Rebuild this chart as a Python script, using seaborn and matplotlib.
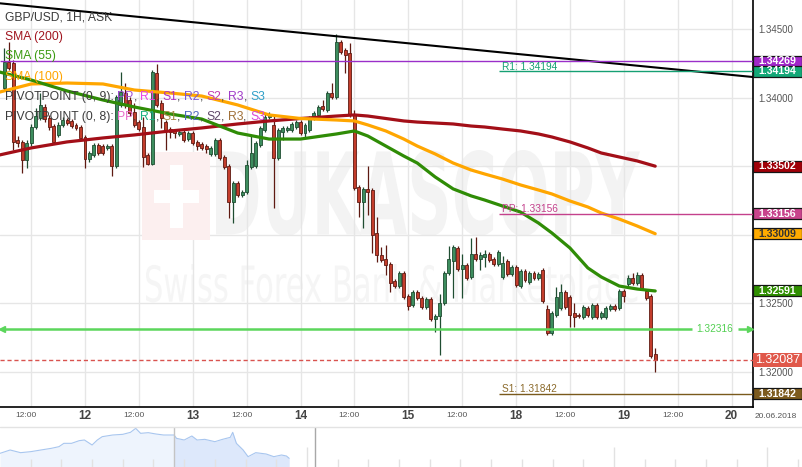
import numpy as np
import matplotlib
matplotlib.use('Agg')
import matplotlib.pyplot as plt
import seaborn as sns
from matplotlib.patches import Rectangle, PathPatch
from matplotlib.textpath import TextPath
from matplotlib.font_manager import FontProperties
from matplotlib.transforms import Affine2D, IdentityTransform, ScaledTranslation, blended_transform_factory

# ---- data -------------------------------------------------------------------
# hourly candles, hour 0 = 12.06 00:00 (weekend hours skipped)
hours = np.arange(-18, 128)
opens = [1.34073, 1.34262, 1.34255, 1.33693, 1.33679, 1.33547, 1.33671, 1.33788, 1.33854, 1.33934,
         1.33854, 1.33795, 1.33730, 1.33803, 1.33839, 1.33832, 1.33803, 1.33788, 1.33715, 1.33554,
         1.33584, 1.33657, 1.33649, 1.33635, 1.33649, 1.33503, 1.33949, 1.34036, 1.33985, 1.33897,
         1.33824, 1.33788, 1.33584, 1.33518, 1.34182, 1.33963, 1.33824, 1.33773, 1.33759, 1.33737,
         1.33751, 1.33700, 1.33744, 1.33679, 1.33664, 1.33649, 1.33591, 1.33591, 1.33693, 1.33569,
         1.33503, 1.33241, 1.33379, 1.33292, 1.33314, 1.33496, 1.33503, 1.33657, 1.33766, 1.33861,
         1.33803, 1.33562, 1.33751, 1.33766, 1.33766, 1.33788, 1.33824, 1.33744, 1.33766, 1.33854,
         1.33876, 1.33941, 1.33912, 1.34036, 1.34007, 1.34408, 1.34350, 1.34328, 1.33876, 1.33350,
         1.33241, 1.33336, 1.33328, 1.33014, 1.32854, 1.32824, 1.32788, 1.32664, 1.32627, 1.32722,
         1.32554, 1.32489, 1.32583, 1.32540, 1.32474, 1.32532, 1.32386, 1.32408, 1.32503, 1.32722,
         1.32810, 1.32905, 1.32751, 1.32781, 1.32693, 1.32861, 1.32824, 1.32839, 1.32861, 1.32824,
         1.32788, 1.32693, 1.32810, 1.32715, 1.32766, 1.32627, 1.32737, 1.32656, 1.32722, 1.32686,
         1.32744, 1.32459, 1.32284, 1.32416, 1.32467, 1.32583, 1.32547, 1.32430, 1.32416, 1.32401,
         1.32467, 1.32401, 1.32489, 1.32401, 1.32401, 1.32459, 1.32481, 1.32467, 1.32591, 1.32642,
         1.32686, 1.32649, 1.32708, 1.32591, 1.32554, 1.32131]
highs = [1.34365, 1.34408, 1.34277, 1.33722, 1.33693, 1.33693, 1.33810, 1.33927, 1.34036, 1.33956,
         1.33876, 1.33810, 1.33824, 1.33861, 1.33854, 1.33846, 1.33817, 1.33803, 1.33730, 1.33613,
         1.33671, 1.33671, 1.33664, 1.33664, 1.33664, 1.34022, 1.34189, 1.34109, 1.34007, 1.33963,
         1.33839, 1.33861, 1.33598, 1.34204, 1.34248, 1.33985, 1.33839, 1.33788, 1.33773, 1.33766,
         1.33766, 1.33759, 1.33759, 1.33693, 1.33679, 1.33664, 1.33649, 1.33708, 1.33708, 1.33584,
         1.33518, 1.33394, 1.33394, 1.33328, 1.33547, 1.33730, 1.33686, 1.33795, 1.33883, 1.33897,
         1.33883, 1.33781, 1.33795, 1.33795, 1.33824, 1.33839, 1.33839, 1.33817, 1.33868, 1.33905,
         1.33949, 1.33985, 1.34051, 1.34109, 1.34467, 1.34423, 1.34365, 1.34401, 1.33912, 1.33365,
         1.33350, 1.33503, 1.33343, 1.33131, 1.32912, 1.32927, 1.32802, 1.32678, 1.32737, 1.32737,
         1.32569, 1.32598, 1.32598, 1.32554, 1.32547, 1.32547, 1.32423, 1.32569, 1.32737, 1.32919,
         1.32927, 1.32919, 1.32861, 1.32795, 1.32978, 1.32985, 1.32875, 1.32890, 1.32875, 1.32839,
         1.32890, 1.32846, 1.32824, 1.32781, 1.32781, 1.32751, 1.32751, 1.32737, 1.32737, 1.32729,
         1.32759, 1.32489, 1.32445, 1.32620, 1.32642, 1.32598, 1.32562, 1.32503, 1.32430, 1.32489,
         1.32481, 1.32503, 1.32503, 1.32445, 1.32481, 1.32496, 1.32496, 1.32605, 1.32605, 1.32708,
         1.32722, 1.32729, 1.32722, 1.32605, 1.32569, 1.32175]
lows = [1.34051, 1.34204, 1.33620, 1.33642, 1.33452, 1.33489, 1.33649, 1.33773, 1.33839, 1.33824,
        1.33766, 1.33664, 1.33715, 1.33788, 1.33803, 1.33781, 1.33766, 1.33693, 1.33489, 1.33532,
        1.33569, 1.33584, 1.33584, 1.33620, 1.33430, 1.33489, 1.33934, 1.33927, 1.33868, 1.33788,
        1.33759, 1.33496, 1.33511, 1.33511, 1.33934, 1.33781, 1.33620, 1.33708, 1.33708, 1.33722,
        1.33679, 1.33686, 1.33657, 1.33620, 1.33620, 1.33598, 1.33576, 1.33576, 1.33547, 1.33481,
        1.33124, 1.33087, 1.33277, 1.33277, 1.33299, 1.33481, 1.33489, 1.33642, 1.33751, 1.33846,
        1.33197, 1.33547, 1.33693, 1.33751, 1.33751, 1.33773, 1.33730, 1.33708, 1.33751, 1.33839,
        1.33861, 1.33905, 1.33897, 1.33992, 1.33992, 1.34321, 1.34182, 1.33861, 1.33328, 1.33131,
        1.33051, 1.33146, 1.32868, 1.32802, 1.32802, 1.32708, 1.32583, 1.32613, 1.32613, 1.32532,
        1.32452, 1.32474, 1.32525, 1.32459, 1.32459, 1.32372, 1.32291, 1.32124, 1.32489, 1.32708,
        1.32540, 1.32737, 1.32540, 1.32671, 1.32678, 1.32810, 1.32744, 1.32766, 1.32802, 1.32773,
        1.32773, 1.32678, 1.32700, 1.32700, 1.32620, 1.32613, 1.32656, 1.32642, 1.32671, 1.32671,
        1.32503, 1.32270, 1.32270, 1.32401, 1.32452, 1.32459, 1.32328, 1.32328, 1.32394, 1.32386,
        1.32401, 1.32386, 1.32386, 1.32386, 1.32386, 1.32445, 1.32445, 1.32452, 1.32510, 1.32627,
        1.32635, 1.32635, 1.32598, 1.32525, 1.32102, 1.32000]
closes = [1.34262, 1.34219, 1.33679, 1.33671, 1.33547, 1.33671, 1.33788, 1.33868, 1.33949, 1.33846,
          1.33788, 1.33679, 1.33803, 1.33839, 1.33817, 1.33795, 1.33781, 1.33708, 1.33554, 1.33598,
          1.33657, 1.33598, 1.33598, 1.33649, 1.33503, 1.34007, 1.34043, 1.33949, 1.33890, 1.33803,
          1.33773, 1.33569, 1.33518, 1.34189, 1.33949, 1.33854, 1.33759, 1.33751, 1.33744, 1.33751,
          1.33693, 1.33744, 1.33671, 1.33649, 1.33635, 1.33627, 1.33635, 1.33693, 1.33562, 1.33496,
          1.33241, 1.33379, 1.33292, 1.33314, 1.33511, 1.33598, 1.33671, 1.33781, 1.33861, 1.33876,
          1.33562, 1.33766, 1.33781, 1.33781, 1.33810, 1.33824, 1.33744, 1.33803, 1.33854, 1.33890,
          1.33934, 1.33919, 1.34036, 1.34007, 1.34408, 1.34335, 1.34314, 1.33876, 1.33343, 1.33241,
          1.33336, 1.33314, 1.33000, 1.32854, 1.32817, 1.32781, 1.32649, 1.32627, 1.32722, 1.32547,
          1.32481, 1.32583, 1.32540, 1.32474, 1.32532, 1.32386, 1.32408, 1.32503, 1.32722, 1.32824,
          1.32912, 1.32751, 1.32781, 1.32686, 1.32861, 1.32824, 1.32854, 1.32861, 1.32817, 1.32788,
          1.32875, 1.32795, 1.32715, 1.32766, 1.32635, 1.32737, 1.32671, 1.32722, 1.32686, 1.32715,
          1.32518, 1.32284, 1.32430, 1.32547, 1.32583, 1.32474, 1.32416, 1.32401, 1.32408, 1.32474,
          1.32416, 1.32489, 1.32401, 1.32430, 1.32467, 1.32481, 1.32459, 1.32591, 1.32554, 1.32686,
          1.32649, 1.32708, 1.32613, 1.32540, 1.32117, 1.32087]

# moving averages, sampled along the drawn curves
sma_hours = [-19, -12, -4, 4, 11, 19, 26, 34, 41, 48, 56, 60, 63, 67, 71,
             74, 78, 82, 86, 89, 93, 97, 101, 104, 108, 112, 115, 119, 123, 127]
sma200 = [1.33584, 1.33635, 1.33679, 1.33708, 1.33730, 1.33759, 1.33781, 1.33810, 1.33832, 1.33850,
          1.33868, 1.33876, 1.33868, 1.33850, 1.33832, 1.33824, 1.33817, 1.33810, 1.33795, 1.33788,
          1.33773, 1.33759, 1.33737, 1.33715, 1.33679, 1.33635, 1.33598, 1.33569, 1.33540, 1.33502]
sma55 = [1.34189, 1.34131, 1.34051, 1.33985, 1.33934, 1.33883, 1.33846, 1.33744, 1.33700, 1.33700,
         1.33737, 1.33759, 1.33722, 1.33649, 1.33576, 1.33525, 1.33423, 1.33336, 1.33285, 1.33255,
         1.33211, 1.33167, 1.33087, 1.33014, 1.32905, 1.32759, 1.32693, 1.32627, 1.32605, 1.32591]
sma100 = [1.34043, 1.34102, 1.34109, 1.34102, 1.34058, 1.34036, 1.34014, 1.33949, 1.33876, 1.33850,
          1.33839, 1.33832, 1.33803, 1.33759, 1.33700, 1.33649, 1.33591, 1.33525, 1.33474, 1.33445,
          1.33408, 1.33365, 1.33328, 1.33299, 1.33248, 1.33204, 1.33160, 1.33116, 1.33065, 1.33009]

trend_hours = [-19, 149]
trend_prices = [1.34691, 1.34152]

level_purple = 1.34269
level_r1 = 1.34194
level_pp = 1.33156
level_s1 = 1.31842
level_green = 1.32316
last_price = 1.32087

box_values = [1.34269, 1.34194, 1.33502, 1.33156, 1.33009, 1.32591, 1.31842]
box_colors = ['#a026c8', '#13a877', '#a00008', '#c8448c', '#ffab00', '#2f8f00', '#7d5b1e']
box_text = ['white', 'white', 'white', 'white', '#333333', 'white', 'white']

day_hours = [0, 24, 48, 72, 96, 120, 144]
day_labels = ['12', '13', '14', '15', '18', '19', '20']
noon_hours = [-12, 12, 36, 60, 84, 108, 132]
price_ticks = [1.320, 1.325, 1.330, 1.335, 1.340, 1.345]
# 1.33000 and 1.33500 sit under the coloured boxes in the original
price_labels = ['1.32000', '1.32500', '', '', '1.34000', '1.34500']

# navigator strip under the chart
nav_days = [0.0, 0.33, 0.67, 1.0, 1.33, 1.67, 1.92, 2.08, 2.33, 2.58, 2.75, 3.0, 3.17, 3.33,
            3.67, 4.0, 4.25, 4.42, 4.58, 4.83, 5.08, 5.33, 5.67, 5.75, 6.0, 6.25, 6.42, 6.67,
            7.0, 7.25, 7.5, 7.58, 7.7, 7.92, 8.08, 8.33, 8.67, 8.92, 9.17, 9.33, 9.42]
nav_level = [41, 51, 43, 46, 51, 56, 61, 71, 71, 79, 81, 66, 81, 91, 96, 98, 104, 116, 101, 103,
             99, 96, 96, 86, 81, 93, 81, 83, 76, 83, 89, 104, 71, 51, 31, 43, 39, 31, 36, 33, 26]

# ---- figure ------------------------------------------------------------------
sns.set_style('white')
plt.rcParams['font.family'] = ['Liberation Sans', 'DejaVu Sans']

W, H = 803, 467
fig = plt.figure(figsize=(W / 100, H / 100), dpi=100)
ax = fig.add_axes([0, 1 - 407 / H, 753 / W, 407 / H])
ax.set_xlim(-18.93, 148.78)
ax.set_ylim(1.31744, 1.34715)

# watermark
def wm_text(text, x0, y0, x1, y1, color, weight):
    tp = TextPath((0, 0), text, size=1, prop=FontProperties(family='DejaVu Sans', weight=weight))
    bb = tp.get_extents()
    tr = Affine2D().translate(-bb.x0, -bb.y0).scale((x1 - x0) / bb.width, (y1 - y0) / bb.height).translate(x0, H - y1)
    ax.add_artist(PathPatch(tp, transform=tr, facecolor=color, edgecolor='none', zorder=0.5))

def wm_rect(x0, y0, x1, y1, color):
    ax.add_artist(Rectangle((x0, H - y1), x1 - x0, y1 - y0, transform=IdentityTransform(),
                            facecolor=color, edgecolor='none', zorder=0.6))

wm_rect(142, 152, 210, 240, '#fcefef')
wm_rect(170, 165, 183, 228, 'white')
wm_rect(154, 190, 199, 203, 'white')
wm_text('DUKASCOPY', 216, 150, 640, 236, '#f3f3f3', 'bold')
wm_text('Swiss Forex Bank & Marketplace', 146, 264, 638, 312, '#f5f5f5', 'normal')

# candles
o, h_, l, c = map(np.array, (opens, highs, lows, closes))
up = c >= o
edge = np.where(up, '#1f4d31', '#5e1a12')
ax.vlines(hours, l, h_, colors=edge, lw=0.9, zorder=3)
ax.bar(hours, np.maximum(np.abs(c - o), 0.00004), bottom=np.minimum(o, c), width=0.66,
       color=np.where(up, '#3d8d5e', '#c33d2c'), edgecolor=edge, linewidth=0.6, zorder=4)

# moving averages and trend line
sns.lineplot(x=sma_hours, y=sma200, ax=ax, color='#a30f18', linewidth=2.3, zorder=5)
sns.lineplot(x=sma_hours, y=sma100, ax=ax, color='#ffa600', linewidth=2.3, zorder=5)
sns.lineplot(x=sma_hours, y=sma55, ax=ax, color='#2f8c06', linewidth=2.3, zorder=5)
sns.lineplot(x=trend_hours, y=trend_prices, ax=ax, color='black', linewidth=1.5, zorder=6)

# levels
x_left, x_right = ax.get_xlim()
ax.hlines(level_purple, x_left, x_right, color='#9a2fc9', lw=1, zorder=6)
ax.hlines(level_r1, 92.3, x_right, color='#15a073', lw=1, zorder=6)
ax.hlines(level_pp, 92.3, x_right, color='#c4418c', lw=1, zorder=6)
ax.hlines(level_s1, 92.3, x_right, color='#7a5a1c', lw=1, zorder=6)
ax.hlines(last_price, x_left, x_right, color='#d9534f', lw=1, linestyles=(0, (3, 2)), zorder=6)
ax.hlines(level_green, x_left, 135.2, color='#5cd65c', lw=1.8, zorder=6)
ax.hlines(level_green, 145.4, 148.0, color='#5cd65c', lw=1.8, zorder=6)
ax.plot([-18.4], [level_green], marker='<', ms=5, color='#5cd65c', zorder=6)
ax.plot([148.1], [level_green], marker='>', ms=5, color='#5cd65c', zorder=6, clip_on=False)
ax.text(140.3, level_green, f'{level_green:.5f}', color='#52d052', fontsize=7.3, ha='center', va='center', zorder=7)
ax.text(92.9, level_r1 + 0.0001, f'R1: {level_r1:.5f}', color='#15a073', fontsize=7.3, va='baseline', zorder=7)
ax.text(92.9, level_pp + 0.0001, f'PP: {level_pp:.5f}', color='#c4418c', fontsize=7.3, va='baseline', zorder=7)
ax.text(92.9, level_s1 + 0.0001, f'S1: {level_s1:.5f}', color='#8b6a2b', fontsize=7.3, va='baseline', zorder=7)

# axes styling
ax.set_xticks(day_hours)
ax.set_xticklabels(day_labels)
ax.set_xticks(noon_hours, minor=True)
ax.set_xticklabels(['12:00'] * len(noon_hours), minor=True)
ax.tick_params(axis='x', which='major', length=0, pad=2.5, labelsize=8.5, labelcolor='#444444')
ax.tick_params(axis='x', which='minor', length=0, pad=3.5, labelsize=6, labelcolor='#555555')
for lab in ax.get_xticklabels():
    lab.set_fontweight('bold')
for lab in ax.get_xticklabels(minor=True):
    lab.set_transform(lab.get_transform() + ScaledTranslation(-0.05, 0, fig.dpi_scale_trans))
ax.yaxis.tick_right()
ax.set_yticks(price_ticks)
ax.set_yticklabels(price_labels)
ax.tick_params(axis='y', length=0, pad=4, labelsize=7, labelcolor='#555555')
ax.grid(True, which='both', color='#e6e6e6', lw=1)
ax.set_axisbelow(True)
for side in ['top', 'left']:
    ax.spines[side].set_visible(False)
for side in ['right', 'bottom']:
    ax.spines[side].set_color('black')
    ax.spines[side].set_linewidth(1.2)

# price boxes on the right
trans = blended_transform_factory(ax.transAxes, ax.transData)
box_w = 49 / 753
for v, fc, tc in zip(box_values, box_colors, box_text):
    ax.add_patch(Rectangle((1.0, v - 0.0004), box_w, 0.0008, transform=trans, facecolor=fc,
                           edgecolor='#151515', lw=0.9, clip_on=False, zorder=10))
    ax.text(1.0 + box_w / 2, v, f'{v:.5f}', transform=trans, ha='center', va='center', color=tc,
            fontsize=7.6, fontweight='bold', clip_on=False, zorder=11)
ax.add_patch(Rectangle((1.0, last_price - 0.00051), box_w, 0.00102, transform=trans, facecolor='#e0584a',
                       edgecolor='none', clip_on=False, zorder=10))
ax.text(1.0 + box_w / 2, last_price, f'{last_price:.5f}', transform=trans, ha='center', va='center',
        color='white', fontsize=9, clip_on=False, zorder=11)

fig.text(776 / W, 1 - 417 / H, '20.06.2018', fontsize=6, color='#555555', ha='center', va='center')

# legend text, top left
def chain(base_y, parts, size=8.7):
    s, col = parts[0]
    t = ax.annotate(s, xy=(5, H - base_y), xycoords='figure pixels', color=col, fontsize=size,
                    va='baseline', ha='left', annotation_clip=False, zorder=20)
    for s, col in parts[1:]:
        t = ax.annotate(s, xy=(1, 0), xycoords=t, color=col, fontsize=size, va='bottom', ha='left',
                        annotation_clip=False, zorder=20)

dark = '#3c3c3c'
chain(20, [('GBP/USD, 1H, ASK', dark)])
chain(40, [('SMA (200)', '#a0141e')])
chain(59.5, [('SMA (55)', '#3a9a10')])
chain(80, [('SMA (100)', '#ffa500')])
piv9 = [('PP', '#a04ad0'), ('R1', '#e845e8'), ('S1', '#b030c0'), ('R2', '#7a55d8'),
        ('S2', '#c03cb0'), ('R3', '#a03cc8'), ('S3', '#30a0c8')]
piv8 = [('PP', '#e868c8'), ('R1', '#18b080'), ('S1', '#a08840'), ('R2', '#5068c0'),
        ('S2', '#604868'), ('R3', '#a07038'), ('S3', '#d848d8')]
for base, name, items in [(100, 'PIVOTPOINT (0, 9): ', piv9), (120, 'PIVOTPOINT (0, 8): ', piv8)]:
    parts = [(name, dark)]
    for i, (s, col) in enumerate(items):
        parts.append((s, col))
        if i < len(items) - 1:
            parts.append((', ', dark))
    chain(base, parts)

# navigator
nav = fig.add_axes([0, 0, 1, 40 / H])
nav.set_xlim(0, W / 30.7)
nav.set_ylim(0, 120)
nav.axis('off')
nd = np.array(nav_days)
nv = np.array(nav_level)
nav.fill_between(nd, 0, nv, where=nd <= 5.67, color='#eef4fd', lw=0, interpolate=True)
nav.fill_between(nd, 0, nv, where=nd >= 5.67, color='#dde8fb', lw=0, interpolate=True)
sns.lineplot(x=nav_days, y=nav_level, ax=nav, color='#a8c6ef', linewidth=0.8)
for d in range(1, 27):
    top = 60 if d in (10, 20, 25) else 23
    nav.vlines(d, 0, top, color='#e2e2e2', lw=1)
nav.vlines(5.67, 0, 120, color='#c4c4c4', lw=1)
nav.vlines(10.25, 0, 120, color='#a8a8a8', lw=1)
fig.add_artist(plt.Line2D([0, 1], [40 / H, 40 / H], transform=fig.transFigure, color='#e3e3e3', lw=1))

fig.savefig('out.png', dpi=100)
